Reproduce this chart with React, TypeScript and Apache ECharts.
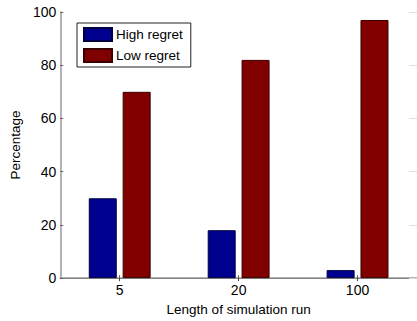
import React, { useEffect, useRef } from "react";
import * as echarts from "echarts";

const categories = ["5", "20", "100"];
const highRegret = [30, 18, 3];
const lowRegret = [70, 82, 97];
const seriesNames = ["High regret", "Low regret"];
const yTicks = { min: 0, max: 100, interval: 20 };
const xName = "Length of simulation run";
const yName = "Percentage";

const FONT = "Liberation Sans, Arial, sans-serif";

export default function App() {
  const ref = useRef<HTMLDivElement>(null);
  useEffect(() => {
    if (!ref.current) return;
    const chart = echarts.init(ref.current, null, { renderer: "svg" });
    chart.setOption({
      animation: false,
      backgroundColor: "#ffffff",
      textStyle: { fontFamily: FONT },
      grid: { left: 57, right: -4, top: 12, bottom: 37, containLabel: false },
      legend: {
        orient: "vertical",
        left: 77,
        top: 23,
        padding: [4, 8, 4, 6],
        itemWidth: 28,
        itemHeight: 13,
        itemGap: 6,
        borderColor: "#222",
        borderWidth: 1,
        backgroundColor: "#fff",
        borderRadius: 0,
        icon: "rect",
        textStyle: { fontFamily: FONT, fontSize: 13.5, color: "#000", lineHeight: 13, padding: [0, 0, 0, -1] },
        data: seriesNames,
      },
      xAxis: [
        {
          type: "category",
          data: categories,
          boundaryGap: true,
          name: xName,
          nameLocation: "middle",
          nameGap: 19,
          nameTextStyle: { fontFamily: FONT, fontSize: 13.5, color: "#000", verticalAlign: "top" },
          axisLine: { show: true, lineStyle: { color: "#444", width: 1 } },
          axisTick: { show: true, inside: true, alignWithLabel: true, length: 3, lineStyle: { color: "#666" } },
          axisLabel: { fontFamily: FONT, fontSize: 14, color: "#000", margin: 5 },
          splitLine: { show: false },
        },
        {
          type: "category",
          data: categories,
          position: "top",
          boundaryGap: true,
          axisLine: { show: true, lineStyle: { color: "#999", width: 1.5 } },
          axisTick: { show: true, inside: true, alignWithLabel: true, length: 3, lineStyle: { color: "#444" } },
          axisLabel: { show: false },
          splitLine: { show: false },
        },
      ],
      yAxis: [
        {
          type: "value",
          min: yTicks.min,
          max: yTicks.max,
          interval: yTicks.interval,
          name: yName,
          nameLocation: "middle",
          nameGap: 32,
          nameTextStyle: { fontFamily: FONT, fontSize: 13.5, color: "#000" },
          axisLine: { show: true, lineStyle: { color: "#999", width: 1.5 } },
          axisTick: { show: true, inside: true, length: 3, lineStyle: { color: "#666" } },
          axisLabel: { fontFamily: FONT, fontSize: 14, color: "#000", margin: 4 },
          splitLine: { show: false },
        },
        {
          type: "value",
          min: yTicks.min,
          max: yTicks.max,
          interval: yTicks.interval,
          position: "right",
          axisLine: { show: false },
          axisTick: { show: true, inside: true, length: 8, lineStyle: { color: "#ddd" } },
          axisLabel: { show: false },
          splitLine: { show: false },
        },
      ],
      series: [
        {
          name: seriesNames[0],
          type: "bar",
          data: highRegret,
          barWidth: 28,
          barGap: "21%",
          itemStyle: { color: "#00008f", borderColor: "#000040", borderWidth: 1 },
        },
        {
          name: seriesNames[1],
          type: "bar",
          data: lowRegret,
          barWidth: 28,
          barGap: "21%",
          itemStyle: { color: "#800000", borderColor: "#3a0000", borderWidth: 1 },
        },
      ],
    });
    return () => chart.dispose();
  }, []);
  return (
    <div
      ref={ref}
      style={{ position: "absolute", left: 0, top: 0, width: 417, height: 321 }}
    />
  );
}
